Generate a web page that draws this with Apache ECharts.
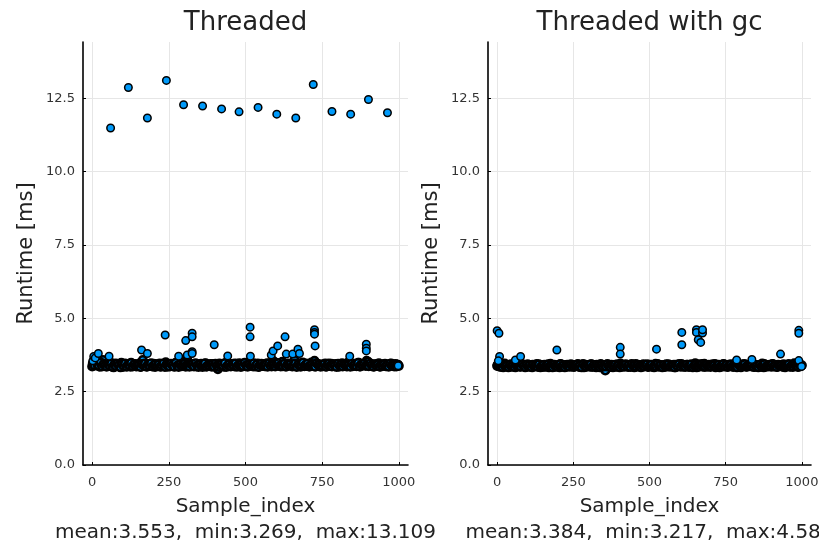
<!DOCTYPE html>
<html>
<head>
<meta charset="utf-8">
<script src="https://cdn.jsdelivr.net/npm/echarts@6/dist/echarts.min.js"></script>
<style>
html,body{margin:0;padding:0;background:#fff;}
#chart{width:819px;height:543px;}
</style>
</head>
<body>
<div id="chart"></div>
<script>
// ---- Data ----
const titles = ["Threaded", "Threaded with gc"];
const xTicks = [0, 250, 500, 750, 1000];
const yTicks = [0, 2.5, 5, 7.5, 10, 12.5];
const statsLeft = "mean:3.553,  min:3.269,  max:13.109";
const statsRight = "mean:3.384,  min:3.217,  max:4.586";
const bandStep = 5;     // samples between band readings
const bandOffsetB = 2;  // second set of readings starts at sample 2

// dense band of the "Threaded" run, readings at samples 0,5,10,...
const leftBand = [
  3.36,3.52,3.44,3.62,3.40,3.35,3.47,3.58,3.38,3.43,
  3.41,3.55,3.37,3.44,3.33,3.46,3.39,3.42,3.36,3.48,
  3.34,3.43,3.40,3.37,3.45,3.35,3.41,3.38,3.44,3.36,
  3.42,3.47,3.35,3.58,3.39,3.43,3.36,3.44,3.40,3.37,
  3.45,3.34,3.41,3.38,3.46,3.36,3.42,3.39,3.50,3.35,
  3.43,3.37,3.44,3.40,3.36,3.47,3.41,3.38,3.52,3.44,
  3.39,3.35,3.60,3.46,3.42,3.37,3.44,3.40,3.36,3.43,
  3.38,3.45,3.34,3.41,3.47,3.37,3.43,3.39,3.35,3.44,
  3.40,3.36,3.27,3.46,3.38,3.44,3.35,3.41,3.52,3.37,
  3.43,3.39,3.45,3.36,3.42,3.38,3.47,3.34,3.41,3.44,
  3.37,3.43,3.50,3.40,3.45,3.36,3.42,3.39,3.46,3.35,
  3.41,3.38,3.44,3.37,3.47,3.40,3.43,3.36,3.55,3.42,
  3.48,3.39,3.45,3.36,3.52,3.41,3.44,3.38,3.46,3.40,
  3.43,3.37,3.58,3.42,3.39,3.47,3.35,3.44,3.40,3.46,
  3.38,3.43,3.36,3.49,3.41,3.55,3.37,3.44,3.40,3.35,
  3.42,3.39,3.46,3.36,3.43,3.38,3.45,3.41,3.37,3.44,
  3.40,3.35,3.43,3.47,3.38,3.42,3.36,3.50,3.41,3.44,
  3.37,3.45,3.39,3.43,3.48,3.36,3.42,3.40,3.46,3.55,
  3.52,3.38,3.44,3.41,3.36,3.43,3.39,3.47,3.35,3.42,
  3.40,3.45,3.37,3.43,3.38,3.46,3.41,3.36,3.44,3.42,
  3.38
];
// second set of readings at samples 2,7,12,...
const leftBandB = [
  3.47,3.39,3.56,3.41,3.37,3.50,3.36,3.44,3.40,3.35,
  3.43,3.38,3.46,3.34,3.42,3.37,3.45,3.40,3.33,3.44,
  3.38,3.46,3.35,3.42,3.39,3.48,3.36,3.43,3.37,3.41,
  3.39,3.34,3.44,3.40,3.46,3.35,3.42,3.38,3.47,3.36,
  3.41,3.44,3.37,3.43,3.35,3.40,3.46,3.34,3.42,3.39,
  3.36,3.45,3.40,3.35,3.48,3.38,3.34,3.43,3.37,3.41,
  3.46,3.40,3.38,3.35,3.44,3.42,3.36,3.47,3.39,3.34,
  3.43,3.37,3.41,3.46,3.35,3.40,3.38,3.44,3.42,3.36,
  3.45,3.39,3.35,3.41,3.43,3.37,3.47,3.34,3.40,3.44,
  3.36,3.42,3.38,3.46,3.35,3.41,3.39,3.43,3.37,3.48,
  3.40,3.35,3.44,3.38,3.42,3.47,3.36,3.43,3.34,3.41,
  3.45,3.39,3.37,3.42,3.35,3.46,3.38,3.44,3.40,3.36,
  3.43,3.47,3.38,3.41,3.37,3.45,3.35,3.42,3.39,3.44,
  3.36,3.40,3.46,3.34,3.43,3.38,3.41,3.49,3.37,3.42,
  3.45,3.36,3.40,3.44,3.38,3.35,3.47,3.41,3.43,3.39,
  3.37,3.44,3.35,3.41,3.46,3.39,3.36,3.43,3.40,3.34,
  3.45,3.38,3.42,3.36,3.44,3.40,3.37,3.41,3.35,3.46,
  3.39,3.43,3.37,3.48,3.36,3.42,3.40,3.45,3.38,3.41,
  3.37,3.46,3.40,3.35,3.43,3.39,3.44,3.36,3.42,3.38,
  3.44,3.37,3.41,3.35,3.45,3.39,3.43,3.40,3.36,3.42
];
// isolated samples of the "Threaded" run: [sample_index, runtime]
const leftOutliers = [
  [2,3.55],[5,3.70],[10,3.65],[20,3.80],[55,3.71],[161,3.92],[180,3.80],
  [238,4.43],[282,3.71],[305,4.24],[310,3.75],[326,4.49],[326,4.37],
  [326,3.86],[326,3.80],[398,4.10],[442,3.72],[515,4.70],[515,4.37],
  [516,3.71],[584,3.75],[590,3.89],[605,4.06],[629,4.37],[633,3.78],
  [654,3.78],[671,3.95],[676,3.80],[725,4.61],[725,4.52],[725,4.46],
  [727,4.06],[840,3.71],[894,4.12],[894,3.98],[894,3.89],[998,3.38],
  [60,11.49],[118,12.87],[180,11.83],[242,13.11],[298,12.28],[360,12.24],
  [422,12.14],[479,12.04],[541,12.19],[602,11.96],[664,11.83],[721,12.97],
  [782,12.05],[843,11.96],[901,12.46],[963,12.01]
];

// dense band of the "Threaded with gc" run
const rightBand = [
  3.38,3.44,3.35,3.41,3.33,3.46,3.37,3.40,3.34,3.43,
  3.36,3.41,3.33,3.45,3.38,3.35,3.42,3.37,3.40,3.34,
  3.43,3.36,3.39,3.33,3.41,3.37,3.44,3.35,3.40,3.38,
  3.34,3.42,3.36,3.39,3.33,3.45,3.37,3.41,3.35,3.40,
  3.38,3.33,3.43,3.36,3.40,3.34,3.42,3.37,3.39,3.35,
  3.41,3.36,3.38,3.44,3.34,3.40,3.37,3.33,3.42,3.36,
  3.39,3.35,3.43,3.37,3.41,3.33,3.40,3.36,3.44,3.38,
  3.34,3.22,3.37,3.39,3.35,3.42,3.33,3.40,3.36,3.43,
  3.38,3.46,3.35,3.41,3.37,3.39,3.34,3.42,3.36,3.40,
  3.33,3.44,3.38,3.36,3.41,3.35,3.43,3.37,3.39,3.34,
  3.42,3.36,3.40,3.33,3.45,3.38,3.35,3.41,3.37,3.39,
  3.34,3.43,3.36,3.40,3.38,3.35,3.42,3.33,3.41,3.37,
  3.39,3.44,3.35,3.40,3.37,3.42,3.34,3.38,3.36,3.41,
  3.47,3.33,3.43,3.37,3.40,3.35,3.45,3.38,3.36,3.42,
  3.34,3.40,3.37,3.44,3.35,3.39,3.33,3.41,3.36,3.43,
  3.38,3.35,3.42,3.37,3.40,3.34,3.45,3.36,3.39,3.41,
  3.33,3.43,3.37,3.40,3.35,3.42,3.38,3.36,3.44,3.34,
  3.41,3.37,3.39,3.35,3.46,3.33,3.40,3.38,3.36,3.42,
  3.35,3.44,3.37,3.40,3.34,3.41,3.38,3.36,3.43,3.33,
  3.39,3.42,3.36,3.40,3.34,3.47,3.37,3.41,3.35,3.38,
  3.40
];
const rightBandB = [
  3.42,3.36,3.40,3.34,3.43,3.37,3.39,3.33,3.41,3.36,
  3.39,3.34,3.42,3.37,3.40,3.35,3.44,3.38,3.33,3.41,
  3.36,3.40,3.34,3.42,3.37,3.39,3.35,3.43,3.33,3.38,
  3.41,3.35,3.39,3.43,3.36,3.38,3.33,3.42,3.37,3.35,
  3.40,3.44,3.36,3.39,3.33,3.41,3.37,3.35,3.43,3.38,
  3.34,3.39,3.42,3.36,3.40,3.33,3.44,3.38,3.35,3.41,
  3.37,3.43,3.34,3.40,3.36,3.42,3.38,3.33,3.39,3.35,
  3.41,3.36,3.44,3.38,3.34,3.40,3.37,3.42,3.35,3.39,
  3.33,3.40,3.37,3.35,3.43,3.36,3.41,3.34,3.44,3.38,
  3.40,3.35,3.42,3.37,3.33,3.39,3.36,3.41,3.43,3.35,
  3.38,3.42,3.34,3.39,3.36,3.44,3.37,3.40,3.33,3.41,
  3.36,3.39,3.43,3.35,3.40,3.38,3.33,3.42,3.37,3.44,
  3.35,3.41,3.38,3.34,3.42,3.36,3.40,3.43,3.33,3.39,
  3.42,3.37,3.35,3.40,3.44,3.38,3.34,3.41,3.36,3.39,
  3.37,3.43,3.40,3.33,3.38,3.42,3.35,3.39,3.44,3.36,
  3.41,3.34,3.39,3.43,3.36,3.40,3.37,3.33,3.42,3.38,
  3.36,3.40,3.44,3.35,3.39,3.37,3.41,3.43,3.34,3.40,
  3.38,3.33,3.42,3.36,3.40,3.44,3.35,3.39,3.41,3.37,
  3.43,3.36,3.39,3.34,3.42,3.38,3.40,3.35,3.37,3.41,
  3.39,3.44,3.35,3.40,3.36,3.42,3.38,3.34,3.41,3.37
];
const rightOutliers = [
  [0,4.58],[6,4.49],[8,3.70],[4,3.55],[60,3.58],[77,3.70],[196,3.92],
  [404,4.01],[404,3.78],[523,3.95],[606,4.52],[606,4.10],[654,4.61],
  [654,4.52],[660,4.27],[668,4.18],[674,4.50],[674,4.61],[786,3.58],
  [836,3.60],[930,3.78],[990,4.59],[990,4.49],[990,3.56],[999,3.36]
];

// ---- Chart ----
const blue = '#009AFA';
const font = 'DejaVu Sans';
const gridLine = '#e6e6e6';

function xAxis(gridIndex, stats) {
  return {
    type: 'value', gridIndex: gridIndex, min: -30, max: 1030,
    axisLine: {show: true, onZero: false, lineStyle: {color: '#000', width: 1.6}},
    axisTick: {show: true, inside: true, length: 3, customValues: xTicks, lineStyle: {color: '#000'}},
    axisLabel: {customValues: xTicks, margin: 11, fontFamily: font, fontSize: 13, color: '#333',
      formatter: v => String(v)},
    splitLine: {show: true, lineStyle: {color: gridLine, width: 1}},
    name: 'Sample_index\n' + stats,
    nameLocation: 'middle', nameGap: 25,
    nameTextStyle: {fontFamily: font, fontSize: 20, color: '#222', lineHeight: 26, align: 'center'}
  };
}
function yAxis(gridIndex) {
  return {
    type: 'value', gridIndex: gridIndex, min: 0, max: 14.42,
    axisLine: {show: true, onZero: false, lineStyle: {color: '#000', width: 1.6}},
    axisTick: {show: true, inside: true, length: 3, customValues: yTicks, lineStyle: {color: '#000'}},
    axisLabel: {customValues: yTicks, margin: 8, fontFamily: font, fontSize: 13, color: '#333',
      formatter: v => v.toFixed(1)},
    splitLine: {show: true, lineStyle: {color: gridLine, width: 1}},
    name: 'Runtime [ms]', nameLocation: 'middle', nameGap: 46, nameRotate: 90,
    nameTextStyle: {fontFamily: font, fontSize: 21, color: '#222'}
  };
}
function scatter(idx, data, border) {
  return {
    type: 'scatter', xAxisIndex: idx, yAxisIndex: idx, data: data,
    symbol: 'circle', symbolSize: 7.5, silent: true,
    itemStyle: {color: blue, borderColor: '#000', borderWidth: border, opacity: 1}
  };
}
const leftBandData = leftBand.map((v, i) => [i * bandStep, v])
  .concat(leftBandB.map((v, i) => [bandOffsetB + i * bandStep, v]));
const rightBandData = rightBand.map((v, i) => [i * bandStep, v])
  .concat(rightBandB.map((v, i) => [bandOffsetB + i * bandStep, v]));

const chart = echarts.init(document.getElementById('chart'), null, {renderer: 'canvas'});
chart.setOption({
  animation: false,
  backgroundColor: '#fff',
  title: [
    {text: titles[0], left: 240.5, textAlign: 'center', top: 5,
     textStyle: {fontFamily: font, fontSize: 26, fontWeight: 'normal', color: '#222'}},
    {text: titles[1], left: 644.5, textAlign: 'center', top: 5,
     textStyle: {fontFamily: font, fontSize: 26, fontWeight: 'normal', color: '#222'}}
  ],
  grid: [
    {left: 83, right: 411, top: 42, bottom: 78, outerBoundsMode: 'none', containLabel: false},
    {left: 488, right: 8, top: 42, bottom: 78, outerBoundsMode: 'none', containLabel: false}
  ],
  xAxis: [xAxis(0, statsLeft), xAxis(1, statsRight)],
  yAxis: [yAxis(0), yAxis(1)],
  series: [
    scatter(0, leftBandData, 2.6), scatter(0, leftOutliers, 1.5),
    scatter(1, rightBandData, 2.6), scatter(1, rightOutliers, 1.5)
  ]
});
</script>
</body>
</html>
